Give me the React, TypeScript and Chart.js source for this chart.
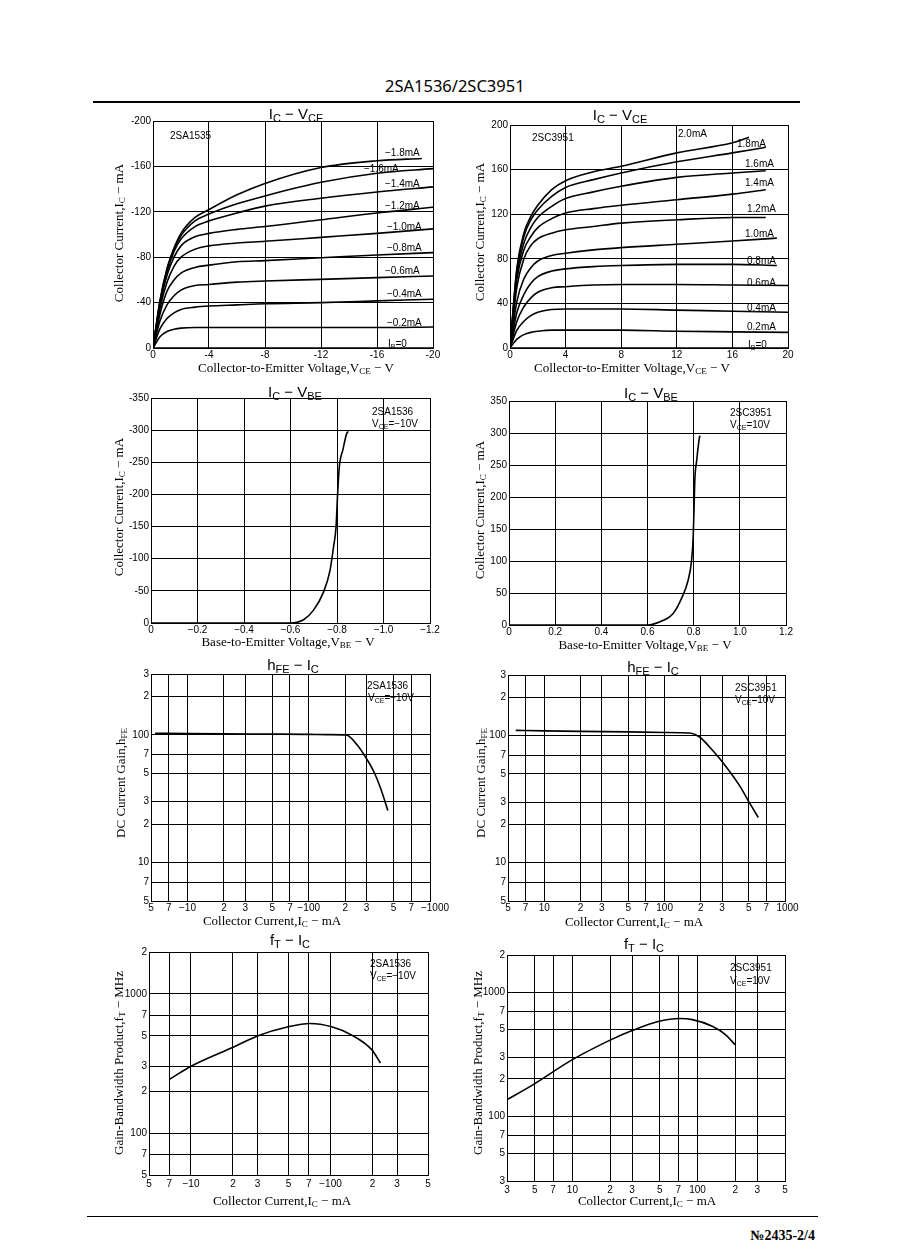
import React, { useEffect, useRef } from "react";
import { Chart, registerables } from "chart.js";

Chart.register(...registerables);

if (typeof document !== "undefined") {
  document.body.style.margin = "0";
  document.body.style.background = "#fff";
}

const SANS = "'Liberation Sans', Arial, Helvetica, sans-serif";
const SERIF = "'Liberation Serif', 'Times New Roman', serif";

// ================= DATA =================
// --- 2SA1536  IC - VCE  (V, mA) ---
const vceA = [0, -0.5, -1, -1.5, -2, -3, -4, -6, -8, -12, -16, -20];
const vceA18 = [0, -0.5, -1, -1.5, -2, -3, -4, -6, -8, -12, -16, -19.2];
const vceZeroA = [0, -20];
const icZeroA = [0, 0];
const icA02 = [0, -10, -14.5, -16.5, -17.5, -18, -18, -18, -18, -18, -18, -18.5];
const icA04 = [0, -17, -26, -31, -34, -36, -37, -38, -39, -40, -41.5, -43];
const icA06 = [0, -24, -38, -46, -51, -55, -56, -58, -59, -60.5, -62, -63.5];
const icA08 = [0, -30, -50, -60, -66, -71, -73, -76, -77, -79.5, -82, -84];
const icA10 = [0, -35, -58, -72, -80, -87, -90, -92.5, -94, -97.5, -101, -105];
const icA12 = [0, -38, -64, -80, -90, -98, -101, -104.5, -107, -113, -119, -124];
const icA14 = [0, -40, -67, -85, -96, -107, -112, -119, -125, -132, -137.5, -142];
const icA16 = [0, -41, -69, -87, -99, -112, -118, -127, -134, -146, -154, -158];
const icA18 = [0, -42, -70, -88, -101, -115, -122, -135, -145, -159, -165, -167];
const ibLabelsA = ["−1.8mA", "−1.6mA", "−1.4mA", "−1.2mA", "−1.0mA", "−0.8mA", "−0.6mA", "−0.4mA", "−0.2mA", "I_{B}=0"];

// --- 2SC3951  IC - VCE ---
const vceC = [0, 0.5, 1, 1.5, 2, 3, 4, 6, 8, 12, 16, 20];
const vceC192 = [0, 0.5, 1, 1.5, 2, 3, 4, 6, 8, 12, 16, 19.2];
const vceC184 = [0, 0.5, 1, 1.5, 2, 3, 4, 6, 8, 12, 16, 18.4];
const vceC172 = [0, 0.5, 1, 1.5, 2, 3, 4, 6, 8, 12, 16, 17.2];
const vceZeroC = [0, 20];
const icZeroC = [0, 0];
const icC02 = [0, 8, 12, 14, 15, 16, 16, 16, 16, 15, 14.5, 14];
const icC04 = [0, 16, 24, 29, 32, 34.5, 35, 35, 35, 34, 33, 32];
const icC06 = [0, 24, 37, 45, 50, 54, 55, 56.5, 57, 57, 56.5, 56];
const icC08 = [0, 32, 48, 58, 64, 69, 71, 73, 74, 75, 75, 74];
const icC10 = [0, 42, 62, 72, 78, 83, 85, 88, 90, 93, 96, 98.5];
const icC12 = [0, 55, 80, 92, 98, 103, 106, 109, 112, 115, 117, 117];
const icC14 = [0, 62, 88, 100, 108, 116, 121, 125, 128, 133, 138, 142];
const icC16 = [0, 66, 94, 108, 117, 127, 134, 140, 145, 153, 157, 159];
const icC18 = [0, 70, 100, 115, 124, 136, 144, 151, 157, 167, 175, 180];
const icC20 = [0, 72, 103, 118, 128, 142, 150, 158, 163, 175, 184, 189];
const ibLabelsC = ["2.0mA", "1.8mA", "1.6mA", "1.4mA", "1.2mA", "1.0mA", "0.8mA", "0.6mA", "0.4mA", "0.2mA", "I_{B}=0"];

// --- IC - VBE ---
const vbeA = [0, -0.2, -0.4, -0.6, -0.656, -0.699, -0.742, -0.77, -0.785, -0.796, -0.802, -0.81, -0.825, -0.842, -0.849];
const icVbeA = [0, 0, 0, 0, -5, -20, -48, -82, -118, -150, -196, -243, -269, -295, -298];
const vbeC = [0, 0.2, 0.4, 0.6, 0.654, 0.711, 0.748, 0.776, 0.791, 0.798, 0.801, 0.805, 0.813, 0.824, 0.827];
const icVbeC = [0, 0, 0, 0, 5, 18, 42, 70, 101, 138, 174, 226, 257, 291, 296];

// --- hFE - IC ---
const hfeIcA = [5.4, 10, 20, 50, 100, 150, 203, 252, 300, 346, 392, 449];
const hfeA = [103, 102.5, 102, 101.5, 101, 100.5, 100, 83, 65, 51, 38, 25.6];
const hfeIcC = [5.8, 10, 20, 50, 100, 161, 195, 249, 324, 418, 503, 600];
const hfeC = [110, 109, 108, 107, 106, 105, 97.6, 77, 57, 40.6, 30, 22.7];

// --- fT - IC ---
const ftIcA = [7, 10, 20.6, 30.3, 49.8, 71.3, 102, 142, 198, 228];
const ftA = [243, 302, 419, 501, 580, 613, 580, 506, 396, 319];
const ftIcC = [3, 4.86, 10, 20.4, 30.4, 49.5, 71.6, 91, 131, 167, 199];
const ftC = [136, 180, 286, 415, 494, 584, 614, 602, 532, 456, 378];

// --- log tick values / labels ---
const hfeXVals = [5, 7, 10, 20, 30, 50, 70, 100, 200, 300, 500, 700, 1000];
const hfeXLabelsA = ["5", "7", "−10", "2", "3", "5", "7", "−100", "2", "3", "5", "7", "\u2003−1000"];
const hfeXLabelsC = ["5", "7", "10", "2", "3", "5", "7", "100", "2", "3", "5", "7", "\u20021000"];
const hfeYVals = [5, 7, 10, 20, 30, 50, 70, 100, 200, 300];
const hfeYLabels = ["5", "7", "10", "2", "3", "5", "7", "100", "2", "3"];
const ftXValsA = [5, 7, 10, 20, 30, 50, 70, 100, 200, 300, 500];
const ftXLabelsA = ["5", "7", "−10", "2", "3", "5", "7", "−100", "2", "3", "5"];
const ftYValsA = [50, 70, 100, 200, 300, 500, 700, 1000, 2000];
const ftYLabelsA = ["5", "7", "100", "2", "3", "5", "7", "1000", "2"];
const ftXValsC = [3, 5, 7, 10, 20, 30, 50, 70, 100, 200, 300, 500];
const ftXLabelsC = ["3", "5", "7", "10", "2", "3", "5", "7", "100", "2", "3", "5"];
const ftYValsC = [30, 50, 70, 100, 200, 300, 500, 700, 1000, 2000];
const ftYLabelsC = ["3", "5", "7", "100", "2", "3", "5", "7", "1000", "2"];

// ================= HELPERS =================
type Part = { t: string; sub?: boolean };
type Txt = { x: number; y: number; s: string; size: number; font: string; align?: "left" | "center"; rotate?: boolean };
type Box = { x: number; y: number; w: number; h: number };
type Area = { l: number; t: number; r: number; b: number };
type Spec = { box: Box; area: Area; scales: (a: Area, b: Box) => any; datasets: any[]; texts: Txt[] };

function parseRich(s: string): Part[] {
  const parts: Part[] = [];
  const re = /_\{([^}]*)\}/g;
  let last = 0;
  let m: RegExpExecArray | null;
  while ((m = re.exec(s))) {
    if (m.index > last) parts.push({ t: s.slice(last, m.index) });
    parts.push({ t: m[1], sub: true });
    last = m.index + m[0].length;
  }
  if (last < s.length) parts.push({ t: s.slice(last) });
  return parts;
}

function drawRich(ctx: CanvasRenderingContext2D, it: Txt, ox: number, oy: number) {
  const parts = parseRich(it.s);
  const main = `${it.size}px ${it.font}`;
  const sub = `${Math.round(it.size * 0.72)}px ${it.font}`;
  let w = 0;
  for (const p of parts) {
    ctx.font = p.sub ? sub : main;
    w += ctx.measureText(p.t).width;
  }
  ctx.save();
  ctx.translate(it.x - ox, it.y - oy);
  if (it.rotate) ctx.rotate(-Math.PI / 2);
  ctx.fillStyle = "#000";
  ctx.textAlign = "left";
  ctx.textBaseline = "alphabetic";
  let x = it.align === "left" ? 0 : -w / 2;
  const base = it.size * 0.36;
  for (const p of parts) {
    ctx.font = p.sub ? sub : main;
    ctx.fillText(p.t, x, base + (p.sub ? it.size * 0.2 : 0));
    x += ctx.measureText(p.t).width;
  }
  ctx.restore();
}

const pts = (xs: number[], ys: number[]) => xs.map((x, i) => ({ x, y: ys[i] }));
const line = (xs: number[], ys: number[], w = 1.6) => ({
  data: pts(xs, ys),
  borderColor: "#000",
  borderWidth: w,
  pointRadius: 0,
  fill: false,
  cubicInterpolationMode: "monotone",
});

const tickFont = { family: SANS, size: 10 };
const gridOpt = { color: "#000", lineWidth: 1, drawTicks: false };
const borderOpt = { color: "#000", width: 1 };

function linAxis(min: number, max: number, step: number, reverse: boolean, fmt: (v: number) => string, fit: number, horiz: boolean, pad: number) {
  return {
    type: "linear",
    min,
    max,
    reverse,
    ticks: { stepSize: step, callback: (v: any) => fmt(Number(v)), font: tickFont, color: "#000", padding: pad, autoSkip: false, maxRotation: 0, minRotation: 0 },
    grid: gridOpt,
    border: borderOpt,
    afterFit: (s: any) => {
      if (horiz) s.height = fit;
      else s.width = fit;
    },
  };
}

function logAxis(min: number, max: number, vals: number[], labels: string[], fit: number, horiz: boolean, pad: number) {
  return {
    type: "logarithmic",
    min,
    max,
    afterBuildTicks: (s: any) => {
      s.ticks = vals.map((v) => ({ value: v }));
    },
    ticks: { callback: (_v: any, i: number) => labels[i] ?? "", font: tickFont, color: "#000", padding: pad, autoSkip: false, maxRotation: 0, minRotation: 0 },
    grid: gridOpt,
    border: borderOpt,
    afterFit: (s: any) => {
      if (horiz) s.height = fit;
      else s.width = fit;
    },
  };
}

const hy = (v: number) => (v === 0 ? "0" : "-" + Math.abs(v));
const neg1 = (v: number) => (v === 0 ? "0" : "−" + Math.abs(v).toFixed(1));
const pos1 = (v: number) => (v === 0 ? "0" : v.toFixed(1));
const posI = (v: number) => String(v);

const T = (x: number, y: number, s: string, size: number, font: string, align: "left" | "center" = "center", rotate = false): Txt => ({ x, y, s, size, font, align, rotate });

const TS = 15; // chart title size
const AS = 13; // axis title size

// ================= CHART SPECS (layout) =================
const SPECS: Spec[] = [
  {
    box: { x: 95, y: 100, w: 350, h: 282 },
    area: { l: 153, t: 121, r: 433, b: 348 },
    scales: (a, b) => ({
      x: linAxis(-20, 0, 4, true, hy, b.y + b.h - a.b, true, 1),
      y: linAxis(-200, 0, 40, true, hy, a.l - b.x, false, 2),
    }),
    datasets: [
      line(vceZeroA, icZeroA),
      line(vceA, icA02),
      line(vceA, icA04),
      line(vceA, icA06),
      line(vceA, icA08),
      line(vceA, icA10),
      line(vceA, icA12),
      line(vceA, icA14),
      line(vceA, icA16),
      line(vceA18, icA18),
    ],
    texts: [
      T(296, 114, "I_{C} − V_{CE}", TS, SANS),
      T(118, 233, "Collector Current,I_{C} − mA", AS, SERIF, "center", true),
      T(296, 367, "Collector-to-Emitter Voltage,V_{CE} − V", AS, SERIF),
      T(170, 135, "2SA1535", 10, SANS, "left"),
      T(385, 152, ibLabelsA[0], 10, SANS, "left"),
      T(364, 168, ibLabelsA[1], 10, SANS, "left"),
      T(385, 183, ibLabelsA[2], 10, SANS, "left"),
      T(385, 205, ibLabelsA[3], 10, SANS, "left"),
      T(387, 226, ibLabelsA[4], 10, SANS, "left"),
      T(387, 247, ibLabelsA[5], 10, SANS, "left"),
      T(385, 270, ibLabelsA[6], 10, SANS, "left"),
      T(387, 293, ibLabelsA[7], 10, SANS, "left"),
      T(387, 322, ibLabelsA[8], 10, SANS, "left"),
      T(388, 343, ibLabelsA[9], 10, SANS, "left"),
    ],
  },
  {
    box: { x: 455, y: 100, w: 345, h: 282 },
    area: { l: 510, t: 125, r: 788, b: 348 },
    scales: (a, b) => ({
      x: linAxis(0, 20, 4, false, posI, b.y + b.h - a.b, true, 1),
      y: linAxis(0, 200, 40, false, posI, a.l - b.x, false, 2),
    }),
    datasets: [
      line(vceZeroC, icZeroC),
      line(vceC, icC02),
      line(vceC, icC04),
      line(vceC, icC06),
      line(vceC192, icC08),
      line(vceC192, icC10),
      line(vceC184, icC12),
      line(vceC184, icC14),
      line(vceC184, icC16),
      line(vceC184, icC18),
      line(vceC172, icC20),
    ],
    texts: [
      T(620, 115, "I_{C} − V_{CE}", TS, SANS),
      T(479, 232, "Collector Current,I_{C} − mA", AS, SERIF, "center", true),
      T(632, 367, "Collector-to-Emitter Voltage,V_{CE} − V", AS, SERIF),
      T(532, 137, "2SC3951", 10, SANS, "left"),
      T(678, 133, ibLabelsC[0], 10, SANS, "left"),
      T(737, 143, ibLabelsC[1], 10, SANS, "left"),
      T(745, 163, ibLabelsC[2], 10, SANS, "left"),
      T(745, 182, ibLabelsC[3], 10, SANS, "left"),
      T(747, 208, ibLabelsC[4], 10, SANS, "left"),
      T(745, 233, ibLabelsC[5], 10, SANS, "left"),
      T(747, 260, ibLabelsC[6], 10, SANS, "left"),
      T(747, 282, ibLabelsC[7], 10, SANS, "left"),
      T(747, 307, ibLabelsC[8], 10, SANS, "left"),
      T(747, 326, ibLabelsC[9], 10, SANS, "left"),
      T(748, 344, ibLabelsC[10], 10, SANS, "left"),
    ],
  },
  {
    box: { x: 95, y: 382, w: 350, h: 270 },
    area: { l: 151, t: 398, r: 430, b: 623 },
    scales: (a, b) => ({
      x: linAxis(-1.2, 0, 0.2, true, neg1, b.y + b.h - a.b, true, 1),
      y: linAxis(-350, 0, 50, true, hy, a.l - b.x, false, 2),
    }),
    datasets: [line(vbeA, icVbeA)],
    texts: [
      T(295, 392, "I_{C} − V_{BE}", TS, SANS),
      T(118, 507, "Collector Current,I_{C} − mA", AS, SERIF, "center", true),
      T(288, 641, "Base-to-Emitter Voltage,V_{BE} − V", AS, SERIF),
      T(372, 411, "2SA1536", 10, SANS, "left"),
      T(372, 423, "V_{CE}=−10V", 10, SANS, "left"),
    ],
  },
  {
    box: { x: 455, y: 382, w: 345, h: 270 },
    area: { l: 509, t: 401, r: 786, b: 625 },
    scales: (a, b) => ({
      x: linAxis(0, 1.2, 0.2, false, pos1, b.y + b.h - a.b, true, 1),
      y: linAxis(0, 350, 50, false, posI, a.l - b.x, false, 2),
    }),
    datasets: [line(vbeC, icVbeC)],
    texts: [
      T(651, 393, "I_{C} − V_{BE}", TS, SANS),
      T(479, 510, "Collector Current,I_{C} − mA", AS, SERIF, "center", true),
      T(645, 644, "Base-to-Emitter Voltage,V_{BE} − V", AS, SERIF),
      T(730, 412, "2SC3951", 10, SANS, "left"),
      T(730, 424, "V_{CE}=10V", 10, SANS, "left"),
    ],
  },
  {
    box: { x: 95, y: 652, w: 360, h: 278 },
    area: { l: 151, t: 674, r: 430, b: 901 },
    scales: (a, b) => ({
      x: logAxis(5, 1000, hfeXVals, hfeXLabelsA, b.y + b.h - a.b, true, 1),
      y: logAxis(5, 300, hfeYVals, hfeYLabels, a.l - b.x, false, 2),
    }),
    datasets: [line(hfeIcA, hfeA)],
    texts: [
      T(293, 665, "h_{FE} − I_{C}", TS, SANS),
      T(120, 783, "DC Current Gain,h_{FE}", AS, SERIF, "center", true),
      T(272, 920, "Collector Current,I_{C} − mA", AS, SERIF),
      T(367, 685, "2SA1536", 10, SANS, "left"),
      T(368, 697, "V_{CE}=−10V", 10, SANS, "left"),
    ],
  },
  {
    box: { x: 455, y: 652, w: 345, h: 278 },
    area: { l: 508, t: 675, r: 785, b: 901 },
    scales: (a, b) => ({
      x: logAxis(5, 1000, hfeXVals, hfeXLabelsC, b.y + b.h - a.b, true, 1),
      y: logAxis(5, 300, hfeYVals, hfeYLabels, a.l - b.x, false, 2),
    }),
    datasets: [line(hfeIcC, hfeC)],
    texts: [
      T(653, 667, "h_{FE} − I_{C}", TS, SANS),
      T(480, 783, "DC Current Gain,h_{FE}", AS, SERIF, "center", true),
      T(634, 921, "Collector Current,I_{C} − mA", AS, SERIF),
      T(735, 687, "2SC3951", 10, SANS, "left"),
      T(735, 699, "V_{CE}=10V", 10, SANS, "left"),
    ],
  },
  {
    box: { x: 95, y: 928, w: 350, h: 282 },
    area: { l: 149, t: 952, r: 428, b: 1175 },
    scales: (a, b) => ({
      x: logAxis(5, 500, ftXValsA, ftXLabelsA, b.y + b.h - a.b, true, 3),
      y: logAxis(50, 2000, ftYValsA, ftYLabelsA, a.l - b.x, false, 2),
    }),
    datasets: [line(ftIcA, ftA)],
    texts: [
      T(290, 940, "f_{T} − I_{C}", TS, SANS),
      T(118, 1063, "Gain-Bandwidth Product,f_{T} − MHz", AS, SERIF, "center", true),
      T(282, 1200, "Collector Current,I_{C} − mA", AS, SERIF),
      T(370, 963, "2SA1536", 10, SANS, "left"),
      T(370, 975, "V_{CE}=−10V", 10, SANS, "left"),
    ],
  },
  {
    box: { x: 455, y: 928, w: 345, h: 282 },
    area: { l: 507, t: 955, r: 785, b: 1181 },
    scales: (a, b) => ({
      x: logAxis(3, 500, ftXValsC, ftXLabelsC, b.y + b.h - a.b, true, 3),
      y: logAxis(30, 2000, ftYValsC, ftYLabelsC, a.l - b.x, false, 2),
    }),
    datasets: [line(ftIcC, ftC)],
    texts: [
      T(644, 944, "f_{T} − I_{C}", TS, SANS),
      T(477, 1063, "Gain-Bandwidth Product,f_{T} − MHz", AS, SERIF, "center", true),
      T(647, 1200, "Collector Current,I_{C} − mA", AS, SERIF),
      T(730, 967, "2SC3951", 10, SANS, "left"),
      T(730, 980, "V_{CE}=10V", 10, SANS, "left"),
    ],
  },
];

function PlotCanvas({ spec }: { spec: Spec }) {
  const ref = useRef<HTMLCanvasElement | null>(null);
  useEffect(() => {
    const { box, area } = spec;
    const textPlugin = {
      id: "pageText",
      afterDraw(chart: any) {
        const ctx = chart.ctx as CanvasRenderingContext2D;
        for (const t of spec.texts) drawRich(ctx, t, box.x, box.y);
      },
    };
    const chart = new Chart(ref.current as HTMLCanvasElement, {
      type: "line",
      data: { datasets: spec.datasets },
      options: {
        animation: false,
        responsive: false,
        devicePixelRatio: 1,
        events: [],
        layout: { padding: { left: 0, top: area.t - box.y, right: box.x + box.w - area.r, bottom: 0 } },
        plugins: { legend: { display: false }, title: { display: false }, tooltip: { enabled: false } },
        scales: spec.scales(area, box),
      } as any,
      plugins: [textPlugin],
    } as any);
    return () => chart.destroy();
  }, [spec]);
  return (
    <canvas
      ref={ref}
      width={spec.box.w}
      height={spec.box.h}
      style={{ position: "absolute", left: spec.box.x, top: spec.box.y, width: spec.box.w, height: spec.box.h }}
    />
  );
}

export default function App() {
  return (
    <div style={{ position: "relative", width: 898, height: 1260, background: "#fff", overflow: "hidden" }}>
      <div style={{ position: "absolute", left: 385, top: 76, fontFamily: "'Noto Sans', sans-serif", fontSize: 16.5, lineHeight: "20px", color: "#000" }}>
        2SA1536/2SC3951
      </div>
      <div style={{ position: "absolute", left: 93, top: 101, width: 707, height: 2, background: "#000" }} />
      {SPECS.map((s, i) => (
        <PlotCanvas key={i} spec={s} />
      ))}
      <div style={{ position: "absolute", left: 87, top: 1216, width: 731, height: 1, background: "#000" }} />
      <div style={{ position: "absolute", right: 898 - 815, top: 1228, fontFamily: SERIF, fontWeight: "bold", fontSize: 14, lineHeight: "16px", color: "#000" }}>
        №2435-2/4
      </div>
    </div>
  );
}
